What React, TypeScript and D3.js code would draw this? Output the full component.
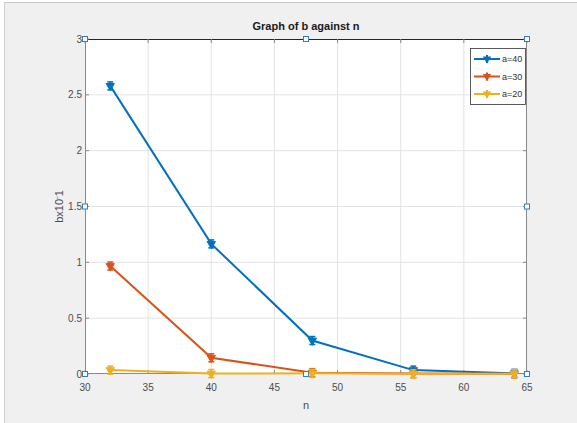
import React from "react";
import * as d3 from "d3";

// Sample sizes on the x axis
const nValues = [32, 40, 48, 56, 64];
// b (×10⁻¹) per series
const seriesA40 = [2.58, 1.165, 0.3, 0.035, 0.006];
const seriesA30 = [0.967, 0.145, 0.012, 0.004, 0.002];
const seriesA20 = [0.035, 0.004, 0.006, 0.002, 0.002];
const seriesNames = ["a=40", "a=30", "a=20"];
const seriesColors = ["#0072bd", "#d95319", "#edb120"];
const xTicks = [30, 35, 40, 45, 50, 55, 60, 65];
const yTicks = [0, 0.5, 1, 1.5, 2, 2.5, 3];

const W = 577;
const H = 423;
const left = 85, right = 527, top = 39, bottom = 374;

export default function App() {
  const x = d3.scaleLinear().domain([30, 65]).range([left, right]);
  const y = d3.scaleLinear().domain([0, 3]).range([bottom, top]);
  const allSeries = [seriesA40, seriesA30, seriesA20];
  const line = d3
    .line<number>()
    .x((_, i) => x(nValues[i]))
    .y((d) => y(d));
  const font = "'Liberation Sans', Arial, sans-serif";
  const tickCol = "#4d4d4d";
  const midX = (left + right) / 2;
  const midY = (top + bottom) / 2;
  const handles = [
    [left, top], [midX, top], [right, top],
    [left, midY], [right, midY],
    [left, bottom], [midX, bottom], [right, bottom],
  ];
  const tri = d3.symbol().type(d3.symbolTriangle).size(30)();

  return (
    <div style={{ position: "fixed", left: 0, top: 0, width: W, height: H }}>
      <svg width={W} height={H} style={{ display: "block" }} fontFamily={font}>
        <rect x={0} y={0} width={W} height={H} fill="#ffffff" />
        <rect x={4} y={2} width={W - 4} height={H - 2} fill="#f0f0f0" />
        <line x1={4} x2={W} y1={2.5} y2={2.5} stroke="#c8c8c8" />
        <line x1={4.5} x2={4.5} y1={2} y2={H} stroke="#d0d0d0" />

        {/* plot area */}
        <rect x={left} y={top} width={right - left} height={bottom - top} fill="#ffffff" />

        {/* grid */}
        {xTicks.slice(1, -1).map((t) => (
          <line key={"gx" + t} x1={x(t)} x2={x(t)} y1={top} y2={bottom} stroke="#e3e3e3" />
        ))}
        {yTicks.slice(1, -1).map((t) => (
          <line key={"gy" + t} x1={left} x2={right} y1={y(t)} y2={y(t)} stroke="#e3e3e3" />
        ))}

        {/* axes box */}
        <line x1={left} x2={right} y1={top + 0.5} y2={top + 0.5} stroke="#262626" />
        <line x1={right - 0.5} x2={right - 0.5} y1={top} y2={bottom} stroke="#8a8a8a" />
        <line x1={left + 0.5} x2={left + 0.5} y1={top} y2={bottom} stroke="#8a8a8a" />
        <line x1={left} x2={right} y1={bottom - 0.5} y2={bottom - 0.5} stroke="#8a8a8a" />

        {/* ticks */}
        {xTicks.map((t) => (
          <g key={"tx" + t}>
            <line x1={x(t)} x2={x(t)} y1={bottom} y2={bottom - 4} stroke="#8a8a8a" />
            <line x1={x(t)} x2={x(t)} y1={top} y2={top + 4} stroke="#8a8a8a" />
            <text x={x(t)} y={bottom + 17} textAnchor="middle" fontSize={10} fill={tickCol}>
              {t}
            </text>
          </g>
        ))}
        {yTicks.map((t) => (
          <g key={"ty" + t}>
            <line x1={left} x2={left + 4} y1={y(t)} y2={y(t)} stroke="#8a8a8a" />
            <line x1={right} x2={right - 4} y1={y(t)} y2={y(t)} stroke="#8a8a8a" />
            <text x={left - 3} y={y(t) + 3.5} textAnchor="end" fontSize={10} fill={tickCol}>
              {t}
            </text>
          </g>
        ))}

        {/* series */}
        {allSeries.map((s, si) => (
          <g key={"s" + si}>
            <path d={line(s) || ""} fill="none" stroke={seriesColors[si]} strokeWidth={2} />
            {s.map((v, i) => (
              <g key={i} transform={`translate(${x(nValues[i])},${y(v)})`}>
                <line x1={0} x2={0} y1={-4} y2={4} stroke={seriesColors[si]} strokeWidth={2} />
                <line x1={-3} x2={3} y1={-4} y2={-4} stroke={seriesColors[si]} strokeWidth={1.5} />
                <line x1={-3} x2={3} y1={4} y2={4} stroke={seriesColors[si]} strokeWidth={1.5} />
                <path d={tri || ""} transform="rotate(180)" fill={seriesColors[si]} stroke={seriesColors[si]} />
              </g>
            ))}
          </g>
        ))}

        {/* selection handles */}
        {handles.map(([hx, hy], i) => (
          <rect key={"h" + i} x={hx - 2.5} y={hy - 2.5} width={5} height={5} fill="#ffffff" stroke="#2f7fc1" strokeWidth={1} />
        ))}

        {/* legend */}
        <rect x={470.5} y={48.5} width={55} height={56} fill="#ffffff" stroke="#333333" strokeWidth={0.8} />
        {seriesNames.map((name, i) => {
          const ly = 59 + i * 17.5;
          return (
            <g key={"lg" + name}>
              <line x1={474} x2={500} y1={ly} y2={ly} stroke={seriesColors[i]} strokeWidth={2} />
              <line x1={487} x2={487} y1={ly - 4} y2={ly + 4} stroke={seriesColors[i]} strokeWidth={2} />
              <path d={tri || ""} transform={`translate(487,${ly}) rotate(180)`} fill={seriesColors[i]} />
              <text x={502} y={ly + 3} fontSize={9} fill="#333333">
                {name}
              </text>
            </g>
          );
        })}

        {/* title and axis labels */}
        <text x={midX} y={30} textAnchor="middle" fontSize={11} fontWeight="bold" fill="#1a1a1a">
          Graph of b against n
        </text>
        <text x={midX} y={409} textAnchor="middle" fontSize={11} fill="#4d4d4d">
          n
        </text>
        <text
          transform={`translate(63,${midY}) rotate(-90)`}
          textAnchor="middle"
          fontSize={11}
          fill="#4d4d4d"
        >
          bx10
          <tspan dy={-4} fontSize={8}>-</tspan>
          <tspan dy={4}>1</tspan>
        </text>
      </svg>
    </div>
  );
}
